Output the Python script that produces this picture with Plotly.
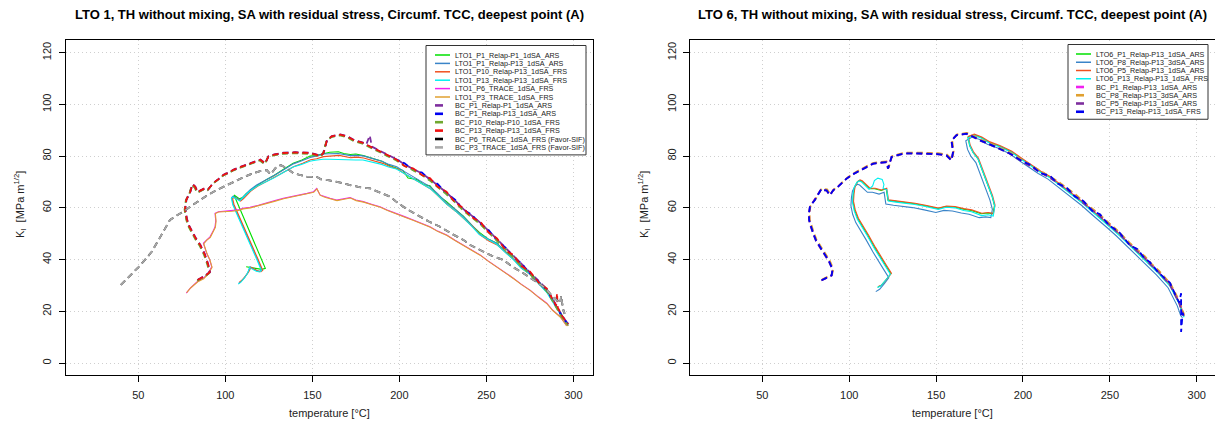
import plotly.graph_objects as go

# ---------------- data: LEFT panel (LTO 1) ----------------
l_p1_p1_T = [112,115,118,121,123,119.5,116.3,113.1,110.2,107.6,105.6,105,106,108,110,112,114,118,123.8,128,133.3,139,144,148.7,152,156.3,160,165,168,171.8,175,179.3,185,190,194,198.5,202,205,210,214,217.6,222,227,232,236.8,242,246,251,256,261,266,270,275,280,285,289,292.4,295,297]
l_p1_p1_K = [37.2,36.8,36.5,36.2,36.6,42,47,52,56.5,60.5,63.5,65,64.5,63.5,64,65.5,66.5,68.5,71,72.5,74.8,77.2,78.5,80,80.2,81,81.5,81.7,81,80.6,80.8,80.2,79,78,76.5,75.5,74.5,71.5,71,69,68.5,65,62.5,59.5,56.8,53,50.5,48,46.3,43,41,37.5,35,31.5,27.5,23.5,19.5,16.5,14.5]

l_p1_p13_T = [107.6,109,111,113,114.2,116,118,120,121,118.5,115.5,112.5,109.5,106.5,104.5,103.7,104.5,106.5,108.4,110,114.2,118,123.8,128,133.3,139.1,144,148.7,152,156.3,160,165,171.8,175,179.3,185,190,194,198.5,203,208,212,217.6,222,227,232,236.8,242,246,251,256,261,266,270,275,280,285,289,292.4,295,297]
l_p1_p13_K = [30.8,31.5,33,35,37.2,36.5,35.8,35.5,36,40,44.5,49,53.5,58,61.5,64,64.5,63.8,63,64,66.9,68.8,70.8,72.5,74.6,77,78.2,79.5,80,80.8,80.9,81,80.2,80.3,80.1,79,78,76.8,75.9,74,72,70.2,68.2,65.5,62,59.5,56.6,53,50,48,46.3,43,40,37,34.7,31,27.5,23,19.3,16.5,14.8]

l_p10_T = [108,109.5,111.5,113.5,114.8,116.5,118.5,120.5,121.5,119,116,113,110,107,105,104.2,105,107,108.8,110.5,114.5,118.5,124,128.5,133.5,139.5,144.5,149,152.5,156.5,160.5,165.5,172,175.5,179.5,185.5,190.5,194.5,199,203.5,208.5,212.5,218,222.5,227.5,232.5,237,242.5,246.5,251.5,256.5,261.5,266.5,270.5,275.5,280.5,285.5,289.5,292.8,295.5,297]
l_p10_K = [31.2,32,33.5,35.3,37,36.4,35.6,35.3,35.8,39.8,44.3,48.8,53.3,57.8,61.3,63.6,64,63.4,62.6,63.6,66.4,68.3,70.2,71.8,73.8,76,77.2,78.6,79,79.8,80,80.3,79.4,79.6,79.3,78.3,77.2,76,75,73,71.2,69.5,67.3,64.5,61.3,58.6,55.8,52.5,49.5,47.2,45.5,42.3,39.5,36.5,34,30.5,26.8,22.5,18.8,16,14.3]

l_p13_T = [107.4,108.8,110.8,112.8,114,115.8,117.8,119.8,120.8,118.3,115.3,112.3,109.3,106.3,104.3,103.5,104.3,106.3,108.2,109.8,114,117.8,123.6,127.8,133.1,138.9,143.8,148.5,151.8,156.1,159.8,164.8,171.6,174.8,179.1,184.8,189.8,193.8,198.3,202.8,207.8,211.8,217.4,221.8,226.8,231.8,236.6,241.8,245.8,250.8,255.8,260.8,265.8,269.8,274.8,279.8,284.8,288.8,292.2,294.8,296.8]
l_p13_K = [30.5,31.2,32.7,34.7,36.9,36.2,35.5,35.2,35.7,39.7,44.2,48.7,53.2,57.7,61.2,63.7,64.2,63.5,62.7,63.7,66.4,68.2,70,71.5,73.6,75.8,76.8,78,78.4,78.8,78.8,78.7,78.3,78.5,78.5,77.6,76.8,75.8,75,73.3,71.4,69.6,67.6,65,61.6,59,56.2,52.7,49.8,47.8,46,42.8,39.8,36.8,34.5,30.8,27.2,22.8,19,16.3,14.6]

l_p6_T = [77.6,80,84,87.4,90,92.2,91,89.3,87.4,89,91.2,93,94.1,94.5,94.1,96,100,103.7,107.5,110,114.2,119,123.8,128,133.3,138,142.9,147,150.6,152.5,154.4,157,160.2,164,168,171.7,175,179.3,184,188.9,193,198.5,203,208,213,217.6,222,227.2,232,236.8,241,246.4,251,256,261,265.5,270,275.1,280,284.7,288,292.4,295,296]
l_p6_K = [27,29,31.5,32.8,34.5,37.2,40,42.4,46.3,47.5,48.8,51,52.7,55,57.9,58.5,58.7,58.9,59.2,59.8,60.2,61,61.8,62.7,63.7,64.3,65,65.6,66.2,67.5,65,64.3,63.7,63,63.5,64,63,62.4,61.4,60.4,59.2,57.9,56.6,55.3,54,52.7,51,49.5,47.5,45.6,43.7,41.8,39.5,37.2,35,32.8,30.5,28.2,25.5,23.1,20.5,17.9,15.5,14.5]

l_p3_T = [77.8,80.2,84.2,87.6,90.2,92.4,91.2,89.5,87.6,89.2,91.4,93.2,94.3,94.7,94.3,96.2,100.2,103.9,107.7,110.2,114.4,119.2,124,128.2,133.5,138.2,143.1,147.2,150.8,152.7,154.6,157.2,160.4,164.2,168.2,171.9,175.2,179.5,184.2,189.1,193.2,198.7,203.2,208.2,213.2,217.8,222.2,227.4,232.2,237,241.2,246.6,251.2,256.2,261.2,265.7,270.2,275.3,280.2,284.9,288.2,292.6,295.2,296.2]
l_p3_K = [27.2,29.1,31.4,32.6,34.4,37,39.8,42.3,46.1,47.4,48.6,50.8,52.5,54.8,57.8,58.4,58.5,58.7,59,59.6,60,60.8,61.6,62.5,63.5,64.1,64.8,65.4,66,67.3,64.8,64.1,63.5,62.8,63.3,63.8,62.8,62.2,61.2,60.2,59,57.7,56.4,55.1,53.8,52.5,50.8,49.3,47.3,45.4,43.5,41.6,39.3,37,34.8,32.6,30.3,28,25.3,22.9,20.3,17.7,15.3,14.3]

bc_l_p1_p1_T = [84.2,88.2,91.2,90.2,88.2,85.7,83.2,81.7,79.2,78,77,77.7,79.9,81.2,82.8,84.2,85.7,88.5,90.2,93.2,96.2,99.2,102.2,104.8,108.2,112.2,116.2,120.2,123,124.9,128.2,133.2,140.2,148.9,152.2,154.6,156.5,158.5,161.2,166.2,170.2,174.2,179.2,181,183,184.2,189.2,194.2,198.7,203.2,208.2,213.2,217.8,222.2,227.2,232.2,237,241.2,246.6,251.2,256.2,261.2,265.7,270.2,275.2,280.2,284.9,288.2,290.2,292.6,295.2,297]
bc_l_p1_p1_K = [32.2,33.7,35.2,38.2,42.2,45.7,48.2,50.2,53.2,55.7,59.7,63.2,66.2,69.2,68.2,66.2,66.7,67.7,67.2,69.7,71.2,72.9,73.7,74.8,75.7,76.8,77.7,78.7,77.2,80,80.7,81.3,81.5,81.3,80.7,80,81.3,86.2,87.7,88.4,87.7,86.2,85.2,84.5,88,83.7,81.9,80.2,78.7,76.7,74.8,73.2,71,68.7,65.8,62.7,59.4,57.2,54.2,51.2,47.8,44.2,41.3,38.2,34.9,31.7,28.4,24.7,22.2,19.4,16.7,15.2]

bc_l_p1_p13_T = [84,88,91,90,88,85.5,83,81.5,79,77.8,76.8,77.5,79.7,81,82.6,84,85.5,88.3,90,93,96,99,102,104.6,108,112,116,120,122.8,124.7,128,133,140,148.7,152,154.4,156.3,158.3,161,166,170,174,179,184,189,194,198.5,203,208,213,217.6,222,227,232,236.8,241,246.4,251,256,261,265.5,270,275,280,284.7,288,290,292.4,295,297]
bc_l_p1_p13_K = [32,33.5,35,38,42,45.5,48,50,53,55.5,59.5,63,66,69,68,66,66.5,67.5,67,69.5,71,72.7,73.5,74.6,75.5,76.6,77.5,78.5,77,79.8,80.5,81.1,81.3,81.1,80.5,79.8,81.1,86,87.5,88.2,87.5,86,85,83.5,81.7,80,78.5,77.2,74.6,73.6,70.8,69.2,65.6,63.2,59.2,57.6,54,51.6,47.6,44.6,41.1,38.6,34.7,31.5,28.2,24.5,22,19.2,16.5,15]

bc_l_p10_T = [83.8,87.8,90.8,89.8,87.8,85.3,82.8,81.3,78.8,77.6,76.6,77.3,79.5,80.8,82.4,83.8,85.3,88.1,89.8,92.8,95.8,98.8,101.8,104.4,107.8,111.8,115.8,119.8,122.6,124.5,127.8,132.8,139.8,148.5,151.8,154.2,156.1,158.1,160.8,165.8,169.8,173.8,178.8,183.8,188.8,193.8,198.3,202.8,207.8,212.8,217.4,221.8,226.8,231.8,236.6,240.8,246.2,250.8,255.8,260.8,265.3,269.8,274.8,279.8,284.5,287.8,289.8,292.2,294.8,296.8]
bc_l_p10_K = [31.8,33.3,34.8,37.8,41.8,45.3,47.8,49.8,52.8,55.3,59.3,62.8,65.8,68.8,67.8,65.8,66.3,67.3,66.8,69.3,70.8,72.5,73.3,74.4,75.3,76.4,77.3,78.3,76.8,79.6,80.3,80.9,81.1,80.9,80.3,79.6,80.9,85.8,87.3,88,87.3,85.8,84.8,83.3,81.5,79.8,78.3,76.3,74.4,72.8,70.6,68.3,65.4,62.3,59,56.8,53.8,50.8,47.4,43.8,40.9,37.8,34.5,31.3,28,24.3,21.8,19,16.3,14.8]

bc_l_p13_T = [84.1,88.1,91.1,90.1,88.1,85.6,83.1,81.6,79.1,77.9,76.9,77.6,79.8,81.1,82.7,84.1,85.6,88.4,90.1,93.1,96.1,99.1,102.1,104.7,108.1,112.1,116.1,120.1,122.9,124.8,128.1,133.1,140.1,148.8,152.1,154.5,156.4,158.4,161.1,166.1,170.1,174.1,179.1,184.1,189.1,194.1,198.6,203.1,208.1,213.1,217.7,222.1,227.1,232.1,236.9,241.1,246.5,251.1,256.1,261.1,265.6,270.1,275.1,280.1,284.8,288.1,290.1,290.6,291,292.5,295.1,297.1]
bc_l_p13_K = [32.1,33.6,35.1,38.1,42.1,45.6,48.1,50.1,53.1,55.6,59.6,63.1,66.1,69.1,68.1,66.1,66.6,67.6,67.1,69.6,71.1,72.8,73.6,74.7,75.6,76.7,77.6,78.6,77.1,79.9,80.6,81.2,81.4,81.2,80.6,79.9,81.2,86.1,87.6,88.3,87.6,86.1,85.1,83.6,81.8,80.1,78.6,76.1,75.2,72.6,71.4,68.1,66.2,62.1,59.8,56.6,54.6,50.6,48.2,43.6,41.7,37.6,35.3,31.1,28.8,24.6,22.1,27,21.5,19.3,16.6,15.1]

bc_l_p6_T = [40,45,50,54,57.7,62,65,68.2,72,75.9,80,85.5,90,95.1,100,106.6,111,116.1,120,123.8,126,129.5,132,135.3,139,142.9,147,152.5,155,158.3,164,168,171.7,177,183.2,189,194.7,198,202.3,207,211.9,217,223.4,230,236.8,241,246.4,253,259.8,265,271.3,277,282.8,287,290,292.4,293,294,295]
bc_l_p6_K = [30.2,33.5,37,40,43,48,51.5,55.3,57,58.5,60.5,63,65,66.9,68.5,70.8,72,73.4,74.2,74.6,73,75.9,76.5,75.3,73.5,72.7,72,72,71,70.8,70.1,69.5,68.8,68,67.5,66,64.3,62.5,60.4,58.5,56.6,54.7,52.7,50,47.6,45.5,43.7,41.5,39.8,37.2,34.7,32,29.5,26.5,24.5,23.1,26,21,19]

bc_l_p3_T = [40,45,50,54,57.7,62,65,68.2,72,75.9,80,85.5,90,95.1,100,106.6,111,116.1,120,123.8,126,129.5,132,135.3,139,142.9,147,152.5,155,158.3,164,168,171.7,177,183.2,189,194.7,198,202.3,207,211.9,217,223.4,230,236.8,241,246.4,253,259.8,265,271.3,277,282.8,287,290,292.4,293,294,295]
bc_l_p3_K = [30.2,33.5,37,40,43,48,51.5,55.3,57,58.5,60.5,63,65,66.9,68.5,70.8,72,73.4,74.2,74.6,73,75.9,76.5,75.3,73.5,72.7,72,72,71,70.8,70.1,69.5,68.8,68,67.5,66,64.3,62.5,60.4,58.5,56.6,54.7,52.7,50,47.6,45.5,43.7,41.5,39.8,37.2,34.7,32,29.5,26.5,24.5,23.1,26,21,19]

# ---------------- data: RIGHT panel (LTO 6) ----------------
r_p1_T = [116.5,118.5,121,124,121.2,118.5,114.8,110.8,107.8,105,103.2,102.2,102.5,103.1,104.7,106,107.2,108.8,111.7,114.6,118.4,121.3,122.3,126.7,131.7,137.6,143.7,151.1,155.7,160.6,165.7,170.2,176,179.7,182.7,183.6,182.2,179.9,176.7,174.1,171.2,169.3,168.3,171.7,176,180.7,186.7,193.3,200,205,210,215.6,220,225,230,235,240,244.4,250,255,261.6,266,270,273.2,278,284.7,288,290,292,292.5]
r_p1_K = [29.4,30,32,34.5,37.5,40.3,44.5,49.3,52.5,55.8,59,62.3,65.5,68,70,70.6,70.3,69.3,67.4,67.4,66.7,67.4,62.9,62.5,62.2,61.6,60.8,59.7,60.5,60.3,59.5,59,57.7,58,57.7,60.9,64.5,68.7,74.5,79,81.5,84.1,87.4,88.3,87.2,85.3,83.8,81.7,78.5,76.2,74,71.8,69.5,67,64.5,61.6,58.6,56.2,52.8,49.8,45.5,42.8,40.2,37.8,34.8,29.8,25.8,22.8,19,18]

r_p8_T = [115.3,117.5,120,122.8,120,117.3,113.6,109.6,106.6,103.8,102,101,101.3,101.9,103.5,104.8,106,107.6,110.5,113.4,117.2,120.1,121.1,125.5,130.5,136.4,142.5,149.9,154.5,159.4,164.5,169,174.8,178.5,181.5,182.4,181,178.7,175.5,172.9,170,168.1,167.1,170.5,174.8,179.5,185.5,192.1,198.8,203.8,208.8,214.4,218.8,223.8,228.8,233.8,238.8,243.2,248.8,253.8,260.4,264.8,268.8,272,276.8,283.5,286.8,288.8,290.8,291.8]
r_p8_K = [27.6,28.5,30.5,33,36,38.8,43,47.8,51,54.3,57.5,60.8,64,66.5,68.5,69.1,68.8,67.8,66,66,65.3,66,61.5,61,60.7,60.1,59.3,58.2,59,58.8,58,57.5,56.2,56.5,56.2,59.4,63,67.2,73,77.5,80,82.6,85.9,87.3,86.5,84.6,83.1,81,77.8,75.5,73.3,71.1,68.8,66.3,63.8,60.9,57.9,55.5,52.1,49.1,44.8,42.1,39.5,37.1,34.1,29.1,25.1,22.1,18.3,17.5]

r_p5_T = [116.8,118.8,121.3,124.3,121.5,118.8,115.1,111.1,108.1,105.3,103.5,102.5,102.8,103.4,105,106.3,107.5,109.1,112,114.9,118.7,121.6,122.6,127,132,137.9,144,151.4,156,160.9,166,170.5,176.3,180,183,183.9,182.5,180.2,177,174.4,171.5,169.6,168.6,172,176.3,181,187,193.6,200.3,205.3,210.3,215.9,220.3,225.3,230.3,235.3,240.3,244.7,250.3,255.3,261.9,266.3,270.3,273.5,278.3,285,288.3,290.3,292.3,292.8]
r_p5_K = [29.6,30.2,32.2,34.7,37.7,40.5,44.7,49.5,52.7,56,59.2,62.5,65.7,68.2,70.2,70.8,70.5,69.5,67.6,67.6,66.9,67.6,63.1,62.7,62.4,61.8,61,59.9,60.7,60.5,59.7,59.2,57.9,58.2,57.9,61.1,64.7,68.9,74.7,79.2,81.7,84.3,87.6,88.5,87.4,85.5,84,81.9,78.7,76.4,74.2,72,69.7,67.2,64.7,61.8,58.8,56.4,53,50,45.7,43,40.4,38,35,30,26,23,19.2,18.2]

r_p13_T = [116.2,118.2,120.7,123.7,120.9,118.2,114.5,110.5,107.5,104.7,102.9,101.9,102.2,102.8,104.4,105.7,106.9,108.5,111.4,113.5,114.5,116.5,119,120,119.5,121.6,122.5,126.9,131.9,137.8,143.9,151.3,155.9,160.8,165.9,170.4,176.2,179.9,182.9,183.8,182.4,180.1,176.9,174.3,171.4,169.5,168.5,171.9,176.2,180.9,186.9,193.5,200.2,205.2,210.2,215.8,220.2,225.2,230.2,235.2,240.2,244.6,250.2,255.2,261.8,266.2,270.2,273.4,278.2,284.9,288.2,290.2,292.2,292.7]
r_p13_K = [29.2,29.8,31.8,34.3,37.3,40.1,44.3,49.1,52.3,55.6,58.8,62.1,65.3,67.8,69.8,70.4,70.1,69.1,67.2,68.5,70.5,71.5,71,69,67.5,67,62.6,62.2,61.9,61.3,60.5,59.4,60.2,60,59,58.5,57,57.3,56.8,60.6,64.2,68.4,74.2,78.7,81.2,83.8,87.1,88,86.9,85,83.5,81.4,78.2,75.9,73.7,71.5,69.2,66.7,64.2,61.3,58.3,55.9,52.5,49.5,45.2,42.5,39.9,37.5,34.5,29.5,25.5,22.5,18.7,17.7]

bc_r_p1_T = [84.2,87,90,90.5,90,88.5,87.1,85,83.2,81,79.4,78,77.1,77,77.5,79,80.3,82,84.2,85.5,87.1,89,90.9,94,98.6,102,106.2,110,113.9,118,121.6,122.5,124.5,128,131.2,138,146.5,151,156.1,159,159.9,159,161.9,167.6,171,175.3,180,186,192.6,200,205,210,215.6,220,225,230,235,240,244.4,250,255,261.6,266,270,273.2,278,284.7,288,290,292,292.5]
bc_r_p1_K = [32.1,33,34,36,37.2,39.5,41.1,43,45,47.5,50.2,53,55.3,58,60.4,62,63,65,67.5,67,66.9,65,66.9,68.5,71.4,73,74.6,76,77.2,77.6,77.8,75.3,79.8,80.5,81.1,81.2,81.1,80.9,80.4,78.5,81.7,86.2,88.2,88.8,87.8,86.2,85,83,81.1,78,76,74,72,70,67.5,65,62,59.3,57,53.5,50.5,46,43.5,41,38.5,35.5,30.5,26.5,23.5,19.5,18.5]

bc_r_p8_T = [84.4,87.2,90.2,90.7,90.2,88.7,87.3,85.2,83.4,81.2,79.6,78.2,77.3,77.2,77.7,79.2,80.5,82.2,84.4,85.7,87.3,89.2,91.1,94.2,98.8,102.2,106.4,110.2,114.1,118.2,121.8,122.7,124.7,128.2,131.4,138.2,146.7,151.2,156.3,159.2,160.1,159.2,162.1,167.8,171.2,175.5,180.2,186.2,192.8,200.2,205.2,210.2,215.8,220.2,225.2,230.2,235.2,240.2,244.6,250.2,255.2,261.8,266.2,270.2,273.4,278.2,284.9,288.2,290.2,292.2,292.7]
bc_r_p8_K = [32.3,33.2,34.2,36.2,37.4,39.7,41.3,43.2,45.2,47.7,50.4,53.2,55.5,58.2,60.6,62.2,63.2,65.2,67.7,67.2,67.1,65.2,67.1,68.7,71.6,73.2,74.8,76.2,77.4,77.8,78,75.5,80,80.7,81.3,81.4,81.3,81.1,80.6,78.7,81.9,86.4,88.4,89,88,86.4,85.2,83.2,81.3,78.2,76.2,74.2,72.2,70.2,67.7,65.2,62.2,59.5,57.2,53.7,50.7,46.2,43.7,41.2,38.7,35.7,30.7,26.7,23.7,19.7,18.7]

bc_r_p5_T = [84,86.8,89.8,90.3,89.8,88.3,86.9,84.8,83,80.8,79.2,77.8,76.9,76.8,77.3,78.8,80.1,81.8,84,85.3,86.9,88.8,90.7,93.8,98.4,101.8,106,109.8,113.7,117.8,121.4,122.3,124.3,127.8,131,137.8,146.3,150.8,155.9,158.8,159.7,158.8,161.7,167.4,170.8,175.1,179.8,185.8,192.4,199.8,204.8,209.8,215.4,219.8,224.8,229.8,234.8,239.8,244.2,249.8,254.8,261.4,265.8,269.8,273,277.8,284.5,287.8,289.8,291.8,292.3]
bc_r_p5_K = [31.9,32.8,33.8,35.8,37,39.3,40.9,42.8,44.8,47.3,50,52.8,55.1,57.8,60.2,61.8,62.8,64.8,67.3,66.8,66.7,64.8,66.7,68.3,71.2,72.8,74.4,75.8,77,77.4,77.6,75.1,79.6,80.3,80.9,81,80.9,80.7,80.2,78.3,81.5,86,88,88.6,87.6,86,84.8,82.8,80.9,77.8,75.8,73.8,71.8,69.8,67.3,64.8,61.8,59.1,56.8,53.3,50.3,45.8,43.3,40.8,38.3,35.3,30.3,26.3,23.3,19.3,18.3]

bc_r_p13_T = [84.1,86.9,89.9,90.4,89.9,88.4,87,84.9,83.1,80.9,79.3,77.9,77,76.9,77.4,78.9,80.2,81.9,84.1,85.4,87,88.9,90.8,93.9,98.5,101.9,106.1,109.9,113.8,117.9,121.5,122.4,124.4,127.9,131.1,137.9,146.4,150.9,156,158.9,159.8,158.9,161.8,167.5,170.9,175.2,179.9,185.9,192.5,199.9,204.9,209.9,215.5,219.9,224.9,229.9,234.9,239.9,244.3,249.9,254.9,261.5,265.9,269.9,273.1,277.9,284.6,287.9,289.9,291,291,291.9,292.4]
bc_r_p13_K = [32,32.9,33.9,35.9,37.1,39.4,41,42.9,44.9,47.4,50.1,52.9,55.2,57.9,60.3,61.9,62.9,64.9,67.4,66.9,66.8,64.9,66.8,68.4,71.3,72.9,74.5,75.9,77.1,77.5,77.7,75.2,79.7,80.4,81,81.1,81,80.8,80.3,78.4,81.6,86.1,88.1,88.7,87.7,86.1,84.9,82.9,81,77.9,76.5,73.4,72.5,69.4,68,64.4,62.6,58.8,57.5,53,51,45.5,44,40.5,39,35,31,26,23.4,27,12,19.4,18.4]

# ---------------- styles ----------------
left_series = [
    ("LTO1_P1_Relap-P1_1dSA_ARS", l_p1_p1_T, l_p1_p1_K, "#00E000", "solid"),
    ("LTO1_P1_Relap-P13_1dSA_ARS", l_p1_p13_T, l_p1_p13_K, "#3A84C8", "solid"),
    ("LTO1_P10_Relap-P13_1dSA_FRS", l_p10_T, l_p10_K, "#F05020", "solid"),
    ("LTO1_P13_Relap-P13_1dSA_FRS", l_p13_T, l_p13_K, "#00F0F0", "solid"),
    ("LTO1_P6_TRACE_1dSA_FRS", l_p6_T, l_p6_K, "#F020F0", "solid"),
    ("LTO1_P3_TRACE_1dSA_FRS", l_p3_T, l_p3_K, "#E0A030", "solid"),
    ("BC_P1_Relap-P1_1dSA_ARS", bc_l_p1_p1_T, bc_l_p1_p1_K, "#7E2E9E", "dash"),
    ("BC_P1_Relap-P13_1dSA_ARS", bc_l_p1_p13_T, bc_l_p1_p13_K, "#0000F0", "dash"),
    ("BC_P10_Relap-P10_1dSA_FRS", bc_l_p10_T, bc_l_p10_K, "#70A830", "dash"),
    ("BC_P13_Relap-P13_1dSA_FRS", bc_l_p13_T, bc_l_p13_K, "#F01010", "dash"),
    ("BC_P6_TRACE_1dSA_FRS (Favor-SIF)", bc_l_p6_T, bc_l_p6_K, "#000000", "dash"),
    ("BC_P3_TRACE_1dSA_FRS (Favor-SIF)", bc_l_p3_T, bc_l_p3_K, "#A8A8A8", "dash"),
]
right_series = [
    ("LTO6_P1_Relap-P13_1dSA_ARS", r_p1_T, r_p1_K, "#00E000", "solid"),
    ("LTO6_P8_Relap-P13_3dSA_ARS", r_p8_T, r_p8_K, "#3A84C8", "solid"),
    ("LTO6_P5_Relap-P13_1dSA_ARS", r_p5_T, r_p5_K, "#F05020", "solid"),
    ("LTO6_P13_Relap-P13_1dSA_FRS", r_p13_T, r_p13_K, "#00F0F0", "solid"),
    ("BC_P1_Relap-P13_1dSA_ARS", bc_r_p1_T, bc_r_p1_K, "#F020F0", "dash"),
    ("BC_P8_Relap-P13_3dSA_ARS", bc_r_p8_T, bc_r_p8_K, "#E0A030", "dash"),
    ("BC_P5_Relap-P13_1dSA_ARS", bc_r_p5_T, bc_r_p5_K, "#7E2E9E", "dash"),
    ("BC_P13_Relap-P13_1dSA_FRS", bc_r_p13_T, bc_r_p13_K, "#0000F0", "dash"),
]

titles = ["LTO 1, TH without mixing, SA with residual stress, Circumf. TCC, deepest point (A)",
          "LTO 6, TH without mixing, SA with residual stress, Circumf. TCC, deepest point (A)"]
x_ticks = [50, 100, 150, 200, 250, 300]
y_ticks = [0, 20, 40, 60, 80, 100, 120]

FONT = "Liberation Sans, Arial, Helvetica, sans-serif"
W, H = 1215, 430
MT, MB = 40, 55
PH = H - MT - MB


def py2paper(py):
    return (H - MB - py) / PH


fig = go.Figure()
DASH = "6px,4px"
for name, T, K, col, ls in left_series:
    fig.add_trace(go.Scatter(x=T, y=K, mode="lines", name=name, showlegend=False,
                             line=dict(color=col, width=1.1 if ls == "solid" else 1.8,
                                       dash="solid" if ls == "solid" else DASH),
                             xaxis="x", yaxis="y"))
for name, T, K, col, ls in right_series:
    fig.add_trace(go.Scatter(x=T, y=K, mode="lines", name=name, showlegend=False,
                             line=dict(color=col, width=1.1 if ls == "solid" else 1.8,
                                       dash="solid" if ls == "solid" else DASH),
                             xaxis="x2", yaxis="y2"))

axis_common = dict(showline=True, mirror=True, linecolor="black", linewidth=1,
                   ticks="outside", ticklen=6, tickcolor="black", tickwidth=1,
                   showgrid=True, gridcolor="#CFCFCF", griddash="1px,3px", gridwidth=1,
                   zeroline=False, tickfont=dict(family=FONT, size=11, color="#222"))

left_dom = [65.7 / W, 592.7 / W]
right_dom = [690 / W, 1.0]

fig.update_layout(
    width=W, height=H, margin=dict(l=0, r=0, t=MT, b=MB),
    paper_bgcolor="white", plot_bgcolor="white",
    font=dict(family=FONT, color="#222"),
    xaxis=dict(domain=left_dom, range=[8.3, 311.1], tickvals=x_ticks, anchor="y",
               ticklabelstandoff=4, **axis_common),
    yaxis=dict(domain=[0, 1], range=[-4.64, 124.9], tickvals=y_ticks, anchor="x",
               tickangle=-90, ticklabelstandoff=3, **axis_common),
    xaxis2=dict(domain=right_dom, range=[8.4, 310.5], tickvals=x_ticks, anchor="y2",
                ticklabelstandoff=4, **axis_common),
    yaxis2=dict(domain=[0, 1], range=[-4.64, 124.9], tickvals=y_ticks, anchor="x2",
                tickangle=-90, ticklabelstandoff=3, **axis_common),
)

annotations = []
shapes = []
for title, ytx, xc_px in [(titles[0], 20, 329.2), (titles[1], 644, 952)]:
    annotations.append(dict(text="<b>" + title + "</b>", x=xc_px / W, y=py2paper(14),
                            xref="paper", yref="paper", showarrow=False,
                            xanchor="center", yanchor="middle",
                            font=dict(family=FONT, size=13, color="black")))
    annotations.append(dict(text="temperature [°C]", x=xc_px / W, y=py2paper(413),
                            xref="paper", yref="paper", showarrow=False,
                            xanchor="center", yanchor="middle",
                            font=dict(family=FONT, size=11, color="#222")))
    annotations.append(dict(text="K<sub>I</sub>  [MPa m<sup>1/2</sup>]", x=ytx / W, y=py2paper(205),
                            xref="paper", yref="paper", showarrow=False, textangle=-90,
                            xanchor="center", yanchor="middle",
                            font=dict(family=FONT, size=11, color="#222")))


def add_legend(series, box_left, box_right, first_y, step, line_x0, text_x):
    n = len(series)
    top = first_y - 9.5
    bottom = first_y + (n - 1) * step + 7.5
    shapes.append(dict(type="rect", xref="paper", yref="paper",
                       x0=box_left / W, x1=box_right / W, y0=py2paper(bottom), y1=py2paper(top),
                       line=dict(color="#333", width=1), fillcolor="white", layer="above"))
    for i, (name, T, K, col, ls) in enumerate(series):
        yy = first_y + i * step
        if ls == "solid":
            shapes.append(dict(type="line", xref="paper", yref="paper",
                               x0=line_x0 / W, x1=(line_x0 + 15) / W, y0=py2paper(yy), y1=py2paper(yy),
                               line=dict(color=col, width=1.5), layer="above"))
        else:
            shapes.append(dict(type="line", xref="paper", yref="paper",
                               x0=line_x0 / W, x1=(line_x0 + 8) / W, y0=py2paper(yy), y1=py2paper(yy),
                               line=dict(color=col, width=2.6), layer="above"))
        annotations.append(dict(text=name, x=text_x / W, y=py2paper(yy), xref="paper", yref="paper",
                                showarrow=False, xanchor="left", yanchor="middle",
                                font=dict(family=FONT, size=7.2, color="#222")))


add_legend(left_series, 426, 586, 55, 8.4, 435, 453)
add_legend(right_series, 1068, 1208, 54, 8.25, 1076, 1094)

fig.update_layout(annotations=annotations, shapes=shapes)
fig.write_html("out.html")
